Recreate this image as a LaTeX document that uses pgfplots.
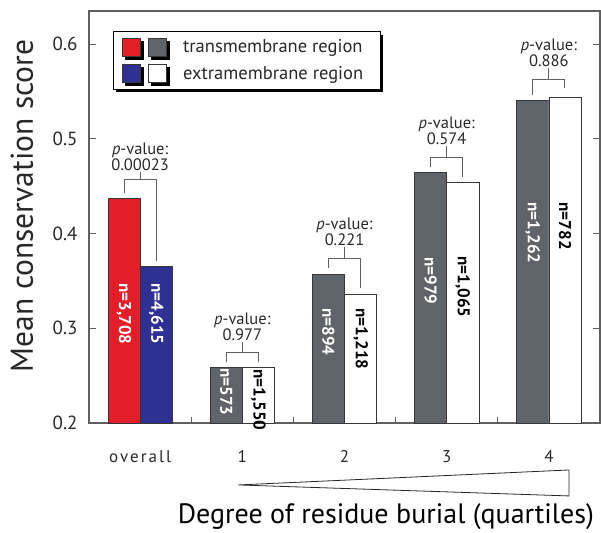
\documentclass[border=0pt]{standalone}
\usepackage{pgfplots}
\pgfplotsset{compat=1.18}
\usepackage{fontspec}
\setmainfont{PT Sans}
\usetikzlibrary{shadows}
\definecolor{tmred}{RGB}{226,30,40}
\definecolor{emblue}{RGB}{46,49,146}
\definecolor{tmgrey}{RGB}{94,100,105}
\definecolor{barline}{RGB}{55,55,55}
\definecolor{axgrey}{RGB}{95,95,95}
\definecolor{txt}{RGB}{40,40,40}
\begin{document}
\begin{tikzpicture}
\begin{axis}[
  scale only axis, width=511pt, height=412pt,
  xmin=-0.5, xmax=4.5, ymin=0.2, ymax=0.635,
  clip mode=individual,
  axis line style={draw=axgrey, line width=1.1pt},
  tick align=inside,
  major tick length=7pt,
  every tick/.style={draw=axgrey, line width=1.1pt},
  ytick={0.2,0.3,0.4,0.5,0.6},
  yticklabels={0.2,0.3,0.4,0.5,0.6},
  yticklabel style={anchor=east, xshift=-8pt, font=\fontsize{19}{19}\selectfont, text=txt},
  xtick={0,1,2,3,4},
  xticklabels={{\addfontfeatures{LetterSpace=12}overall},1,2,3,4},
  xtick style={draw=none},
  xtick pos=bottom,
  xticklabel style={anchor=base, yshift=-39pt, font=\fontsize{17}{17}\selectfont, text=txt},
  extra x ticks={0.5,1.5,2.5,3.5},
  extra x tick labels={},
  extra x tick style={xtick style={draw=axgrey, line width=1.1pt}, major tick length=6pt},
  ylabel={Mean conservation score},
  ylabel style={at={(axis description cs:-0.1096,0.527)}, anchor=base, font=\fontsize{31.5}{31.5}\selectfont, text=txt},
  xlabel={Degree of residue burial (quartiles)},
  xlabel style={at={(axis description cs:0.581,-0.2427)}, anchor=base, font=\fontsize{28}{28}\selectfont, text=black},
  legend style={at={(axis description cs:0.047,0.951)}, anchor=north west,
    draw=black, line width=0.9pt, fill=white,
    font=\fontsize{18.5}{19}\selectfont, text=txt,
    drop shadow={shadow xshift=3pt, shadow yshift=-3pt, fill=black, opacity=1},
    inner xsep=9pt, inner ysep=6pt, row sep=8pt, column sep=8pt,
    nodes={inner xsep=8pt}},
  legend cell align=left,
]
\addlegendimage{legend image code/.code={
  \draw[draw=barline, line width=0.7pt, fill=tmred] (0pt,-9pt) rectangle (18pt,9pt);
  \draw[draw=barline, line width=0.7pt, fill=tmgrey] (26pt,-9pt) rectangle (44pt,9pt);
}}
\addlegendentry{transmembrane region}
\addlegendimage{legend image code/.code={
  \draw[draw=barline, line width=0.7pt, fill=emblue] (0pt,-9pt) rectangle (18pt,9pt);
  \draw[draw=barline, line width=0.7pt, fill=white] (26pt,-9pt) rectangle (44pt,9pt);
}}
\addlegendentry{extramembrane region}

% bars
\addplot[ybar, bar width=0.315, bar shift=-0.1575, fill=tmred, draw=barline, line width=0.7pt, forget plot]
  coordinates {(0,0.437)};
\addplot[ybar, bar width=0.315, bar shift=0.1575, fill=emblue, draw=barline, line width=0.7pt, forget plot]
  coordinates {(0,0.365)};
\addplot[ybar, bar width=0.315, bar shift=-0.1575, fill=tmgrey, draw=barline, line width=0.7pt, forget plot]
  coordinates {(1,0.259) (2,0.357) (3,0.465) (4,0.541)};
\addplot[ybar, bar width=0.315, bar shift=0.1575, fill=white, draw=barline, line width=0.7pt, forget plot]
  coordinates {(1,0.259) (2,0.336) (3,0.454) (4,0.544)};

% n labels
\tikzset{nlab/.style={rotate=-90, anchor=west, inner sep=0pt, font=\bfseries\fontsize{17}{17}\selectfont}}
\node[nlab, text=white] at (axis cs:-0.1575,0.3478) {n=3,708};
\node[nlab, text=white] at (axis cs:0.1575,0.3478) {n=4,615};
\node[nlab, text=white] at (axis cs:0.8425,0.258) {n=573};
\node[nlab, text=black] at (axis cs:1.1575,0.257) {n=1,550};
\node[nlab, text=white] at (axis cs:1.8425,0.3214) {n=894};
\node[nlab, text=black] at (axis cs:2.1575,0.3214) {n=1,218};
\node[nlab, text=white] at (axis cs:2.8425,0.375) {n=979};
\node[nlab, text=black] at (axis cs:3.1575,0.376) {n=1,065};
\node[nlab, text=white] at (axis cs:3.8425,0.433) {n=1,262};
\node[nlab, text=black] at (axis cs:4.1575,0.433) {n=782};

% p-value brackets
\tikzset{br/.style={draw=axgrey, line width=1pt},
  pv/.style={anchor=south, align=center, inner sep=1.5pt, text=txt, font=\fontsize{16.5}{15.5}\selectfont}}
\draw[br] (axis cs:-0.1575,0.4427) |- (axis cs:0.1575,0.4575) -- (axis cs:0.1575,0.371);
\draw[br] (axis cs:0,0.4575) -- (axis cs:0,0.4649);
\node[pv] at (axis cs:0,0.4649) {\textit{p}-value:\\0.00023};

\draw[br] (axis cs:0.8425,0.2644) |- (axis cs:1.1575,0.2749) -- (axis cs:1.1575,0.2644);
\draw[br] (axis cs:1,0.2749) -- (axis cs:1,0.2855);
\node[pv] at (axis cs:1,0.2855) {\textit{p}-value:\\0.977};

\draw[br] (axis cs:1.8425,0.3636) |- (axis cs:2.1575,0.3741) -- (axis cs:2.1575,0.3425);
\draw[br] (axis cs:2,0.3741) -- (axis cs:2,0.3858);
\node[pv] at (axis cs:2,0.3858) {\textit{p}-value:\\0.221};

\draw[br] (axis cs:2.8425,0.4702) |- (axis cs:3.1575,0.4807) -- (axis cs:3.1575,0.4596);
\draw[br] (axis cs:3,0.4807) -- (axis cs:3,0.4923);
\node[pv] at (axis cs:3,0.4923) {\textit{p}-value:\\0.574};

\draw[br] (axis cs:3.8425,0.5462) |- (axis cs:4.1575,0.5631) -- (axis cs:4.1575,0.5536);
\draw[br] (axis cs:4,0.5631) -- (axis cs:4,0.5747);
\node[pv] at (axis cs:4,0.5747) {\textit{p}-value:\\0.886};

% burial wedge
\draw[draw=black!85, line width=0.8pt, fill=white] (axis cs:0.961,0.1346) -- (axis cs:4.196,0.1504) -- (axis cs:4.196,0.123) -- cycle;
\end{axis}
\path ([shift={(-89pt,-106pt)}]current axis.south west) rectangle ([shift={(1pt,11pt)}]current axis.north east);
\end{tikzpicture}
\end{document}
